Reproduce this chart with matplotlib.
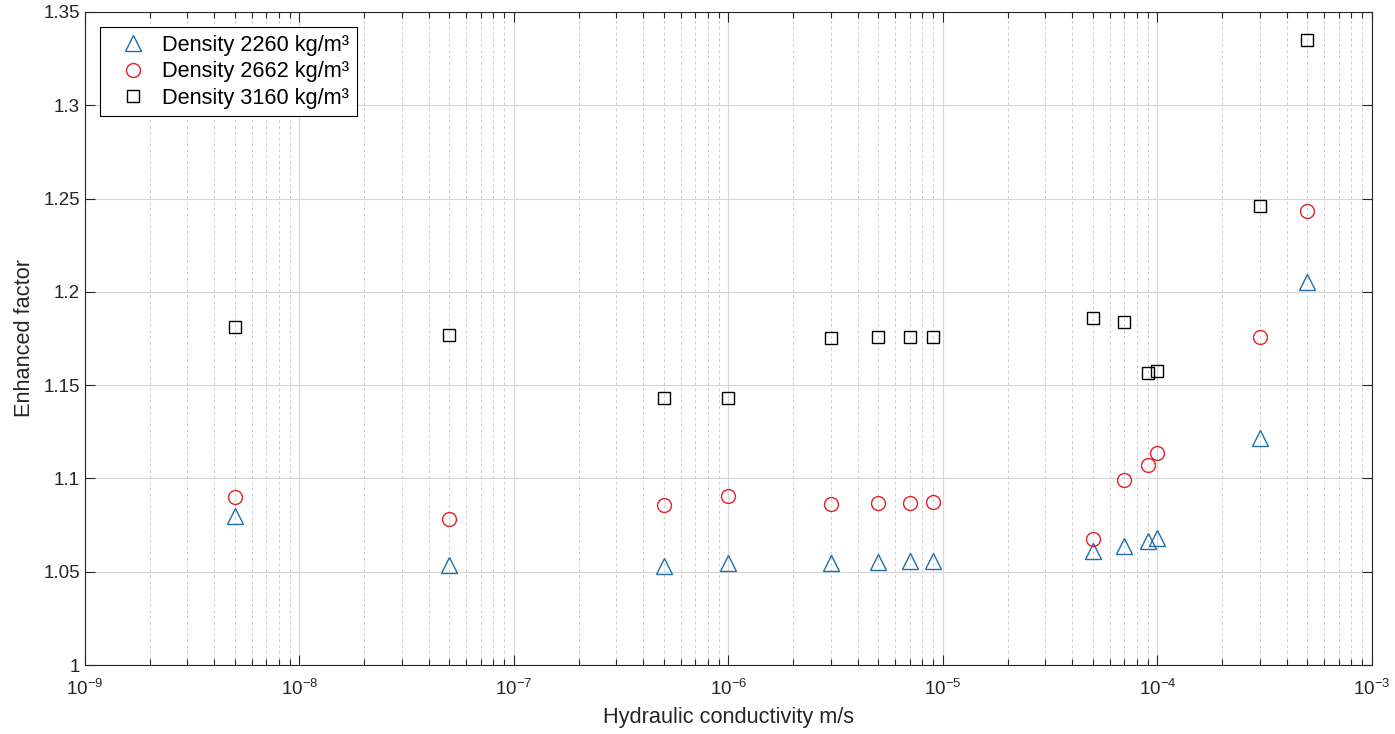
import matplotlib
matplotlib.use("Agg")
import matplotlib.pyplot as plt
from matplotlib.ticker import LogLocator, NullFormatter, FixedLocator

plt.rcParams['font.family'] = ['Liberation Sans', 'DejaVu Sans']
plt.rcParams['mathtext.fontset'] = 'custom'
plt.rcParams['mathtext.rm'] = 'Liberation Sans'
plt.rcParams['mathtext.default'] = 'regular'

conductivity = [5e-9, 5e-8, 5e-7, 1e-6, 3e-6, 5e-6, 7e-6, 9e-6, 5e-5, 7e-5, 9e-5, 1e-4, 3e-4, 5e-4]
factor_2260 = [1.080, 1.0536, 1.053, 1.0547, 1.0547, 1.055, 1.0557, 1.0557, 1.061, 1.064, 1.0665, 1.068, 1.1217, 1.2053]
factor_2662 = [1.090, 1.0783, 1.0858, 1.0906, 1.0863, 1.0868, 1.0868, 1.0874, 1.0675, 1.0992, 1.1072, 1.1136, 1.1758, 1.2433]
factor_3160 = [1.1812, 1.1769, 1.1431, 1.1431, 1.1753, 1.1758, 1.1758, 1.1758, 1.186, 1.1838, 1.1565, 1.1576, 1.246, 1.335]
labels = ['Density 2260 kg/m³', 'Density 2662 kg/m³', 'Density 3160 kg/m³']
x_ticks = [1e-9, 1e-8, 1e-7, 1e-6, 1e-5, 1e-4, 1e-3]
x_tick_labels = ['$10^{-9}$', '$10^{-8}$', '$10^{-7}$', '$10^{-6}$', '$10^{-5}$', '$10^{-4}$', '$10^{-3}$']
y_ticks = [1, 1.05, 1.1, 1.15, 1.2, 1.25, 1.3, 1.35]
y_tick_labels = ['1', '1.05', '1.1', '1.15', '1.2', '1.25', '1.3', '1.35']

fig = plt.figure(figsize=(13.95, 7.34), dpi=100)
ax = fig.add_axes([0.0609, 0.094, 0.9226, 0.8897])

ax.plot(conductivity, factor_2260, linestyle='none', marker='^', markersize=11,
        markerfacecolor='none', markeredgecolor='#1f6fa8', markeredgewidth=1.0, label=labels[0])
ax.plot(conductivity, factor_2662, linestyle='none', marker='o', markersize=10,
        markerfacecolor='none', markeredgecolor='#e0202a', markeredgewidth=1.0, label=labels[1])
ax.plot(conductivity, factor_3160, linestyle='none', marker='s', markersize=9,
        markerfacecolor='none', markeredgecolor='black', markeredgewidth=1.0, label=labels[2])

ax.set_xscale('log')
ax.set_xlim(1e-9, 1e-3)
ax.set_ylim(1, 1.35)
ax.set_yticks(y_ticks)
ax.set_yticklabels(y_tick_labels)
ax.xaxis.set_major_locator(FixedLocator(x_ticks))
ax.set_xticklabels(x_tick_labels)
ax.xaxis.set_minor_locator(LogLocator(base=10, subs=range(2, 10), numticks=100))
ax.xaxis.set_minor_formatter(NullFormatter())

ax.grid(which='major', color='#d6d6d6', linestyle='-', linewidth=0.8)
ax.grid(which='minor', axis='x', color='#cccccc', linestyle=(0, (3, 3)), linewidth=0.7)
ax.set_axisbelow(True)

ax.tick_params(which='both', direction='in', top=True, right=True, colors='#262626')
ax.tick_params(axis='y', labelsize=13.5)
ax.tick_params(axis='x', labelsize=13.5)
ax.tick_params(which='major', length=7, width=0.8)
ax.tick_params(which='minor', length=4, width=0.8)
ax.tick_params(axis='x', which='major', pad=10)
for s in ax.spines.values():
    s.set_color('#262626')
    s.set_linewidth(0.8)

ax.set_xlabel('Hydraulic conductivity m/s', fontsize=15.7, color='#262626', labelpad=6)
ax.set_ylabel('Enhanced factor', fontsize=15.7, color='#262626', labelpad=6)

leg = ax.legend(loc='upper left', fontsize=15.7, fancybox=False, edgecolor='black',
                framealpha=1, borderaxespad=0.7, handletextpad=0.2, borderpad=0.35,
                labelspacing=0.25, handlelength=2.3)
leg.get_frame().set_linewidth(0.8)

fig.savefig('out.png', dpi=100)
